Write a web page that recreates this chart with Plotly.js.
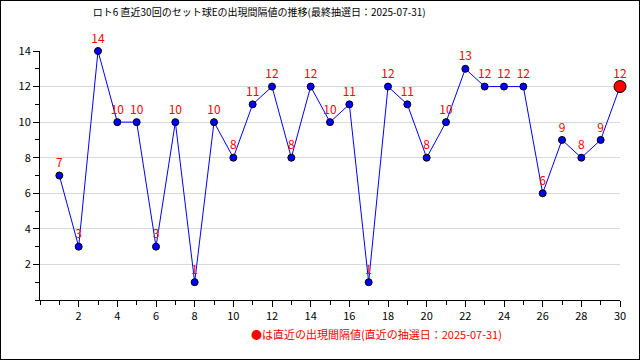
<!DOCTYPE html>
<html><head><meta charset="utf-8">
<script src="https://cdn.plot.ly/plotly-3.0.1.min.js"></script>
<style>
html,body{margin:0;padding:0;background:#fff;}
#wrap{position:relative;width:640px;height:360px;}
#chart{width:640px;height:360px;}
#frame{position:absolute;left:0;top:0;width:638px;height:358px;border:1px solid #000;pointer-events:none;}
</style></head>
<body><div id="wrap"><div id="chart"></div><div id="frame"></div></div>
<script>
const draws = [1,2,3,4,5,6,7,8,9,10,11,12,13,14,15,16,17,18,19,20,21,22,23,24,25,26,27,28,29,30];
const intervals = [7,3,14,10,10,3,10,1,10,8,11,12,8,12,10,11,1,12,11,8,10,13,12,12,12,6,9,8,9,12];
const xTickVals = [2,4,6,8,10,12,14,16,18,20,22,24,26,28,30];
const yTickVals = [2,4,6,8,10,12,14];
const titleText = 'ロト6 直近30回のセット球Eの出現間隔値の推移(最終抽選日：2025-07-31)';
const noteText = '●は直近の出現間隔値(直近の抽選日：2025-07-31)';

const font = '"Noto Sans CJK JP", "DejaVu Sans", sans-serif';
const n = draws.length;
const traces = [
  {
    x: draws, y: intervals, type: 'scatter', mode: 'lines+markers+text',
    text: intervals.map(String), textposition: 'top center',
    textfont: {color: '#ff0000', size: 12, family: font},
    line: {color: '#0000ff', width: 1},
    marker: {color: '#0000ff', size: 7, line: {color: '#000', width: 1}},
    cliponaxis: false, hoverinfo: 'none'
  },
  {
    x: [draws[n-1]], y: [intervals[n-1]], type: 'scatter', mode: 'markers',
    marker: {color: '#ff0000', size: 12, line: {color: '#000', width: 1}},
    cliponaxis: false, hoverinfo: 'none'
  }
];
const layout = {
  width: 640, height: 360,
  margin: {l: 40, r: 20, t: 51, b: 60},
  paper_bgcolor: '#fff', plot_bgcolor: '#fff',
  showlegend: false,
  font: {family: font, size: 12, color: '#000'},
  title: {text: titleText, x: 0.405, xanchor: 'center', y: 0.965, yanchor: 'middle', font: {family: font, size: 10, color: '#000'}},
  xaxis: {
    range: [0, 30], tickvals: xTickVals, ticks: 'outside', ticklen: 6, tickcolor: '#000',
    showgrid: false, zeroline: false, showline: true, linecolor: '#000', linewidth: 1,
    minor: {dtick: 1, tick0: 0, ticks: 'outside', ticklen: 4, tickcolor: '#000', showgrid: false},
    tickfont: {size: 11, family: font}, fixedrange: true
  },
  yaxis: {
    range: [0, 14], tickvals: yTickVals, ticks: 'outside', ticklen: 6, tickcolor: '#000',
    showgrid: true, gridcolor: '#d9d9d9', zeroline: false, showline: true, linecolor: '#000', linewidth: 1,
    minor: {dtick: 1, tick0: 1, ticks: 'outside', ticklen: 4, tickcolor: '#000', showgrid: false},
    tickfont: {size: 11, family: font}, fixedrange: true
  },
  annotations: [{
    text: noteText, xref: 'paper', yref: 'paper', x: 0.8, y: -0.137, xanchor: 'right', yanchor: 'middle',
    showarrow: false, font: {color: '#ff0000', size: 11, family: font}
  }]
};
Plotly.newPlot('chart', traces, layout, {staticPlot: true});
</script></body></html>
